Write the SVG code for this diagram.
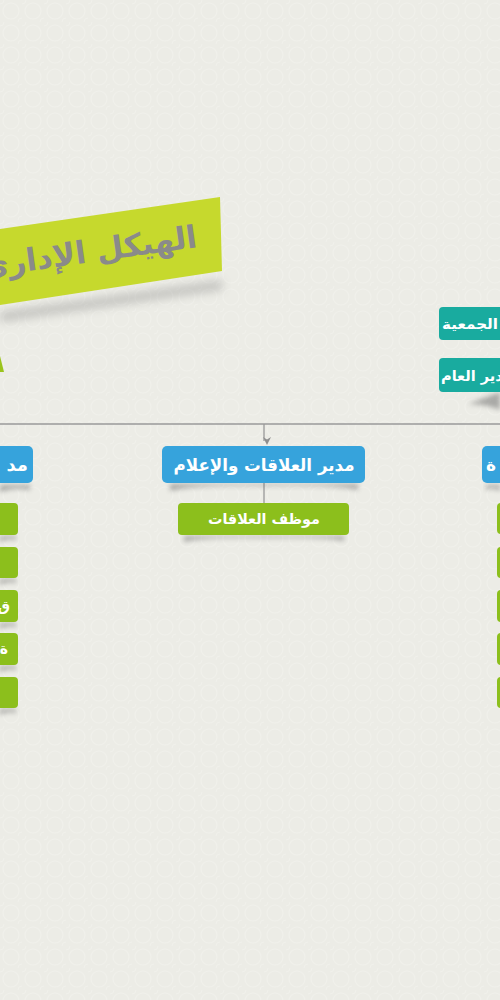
<svg xmlns="http://www.w3.org/2000/svg" width="500" height="1000" viewBox="0 0 500 1000">
<defs>
<pattern id="tile" width="22" height="22" patternUnits="userSpaceOnUse">
<circle cx="11" cy="11" r="8" fill="none" stroke="#f6f6f2" stroke-width="1.2"/>
<circle cx="0" cy="0" r="4" fill="none" stroke="#f6f6f2" stroke-width="1"/>
<circle cx="22" cy="22" r="4" fill="none" stroke="#f6f6f2" stroke-width="1"/>
</pattern>
<filter id="blur" x="-20%" y="-100%" width="140%" height="300%"><feGaussianBlur stdDeviation="2.5"/></filter>
<filter id="blurBig" x="-20%" y="-100%" width="140%" height="300%"><feGaussianBlur stdDeviation="5"/></filter>
<marker id="arr" markerWidth="8" markerHeight="8" refX="4" refY="7" orient="auto" markerUnits="userSpaceOnUse">
<path d="M0,0 L4,2.5 L8,0 L4,8 Z" fill="#8e8e8e" transform="rotate(-90 4 4)"/>
</marker>
<style>
.ar{font-family:"DejaVu Sans",sans-serif;font-weight:bold;fill:#ffffff}
.blue{fill:#36a3dc}
.green{fill:#8cbf1c}
.teal{fill:#19ab9f}
.shadow{fill:#555;opacity:0.45;filter:url(#blur)}
.conn{stroke:#9a9a9a;stroke-width:1.3;fill:none}
</style>
</defs>
<rect width="500" height="1000" fill="#ecece6"/>
<rect width="500" height="1000" fill="url(#tile)" opacity="0.4"/>

<g id="title">
<polygon points="0,312 222,280 222,290 0,322" fill="#777" opacity="0.35" filter="url(#blurBig)"/>
<polygon points="0,229 220,197 222,271 0,305" fill="#c6d92d"/>
<text class="ar" x="198" y="247" direction="rtl" text-anchor="start" font-size="31" style="fill:#8a8a8a" transform="rotate(-8 198 247)">الهيكل الإداري</text>
<polygon points="0,356 4,372 0,372" fill="#9bc41d"/>
</g>

<g id="connectors">
<line class="conn" x1="0" y1="424" x2="500" y2="424"/>
<line class="conn" x1="264" y1="424" x2="264" y2="441" marker-end="url(#arr)"/>
<line class="conn" x1="264" y1="483" x2="264" y2="503"/>
</g>

<g id="assembly">
<rect class="teal" x="439" y="307" width="70" height="33" rx="4"/>
<text class="ar" x="442" y="329" direction="rtl" text-anchor="end" font-size="14" textLength="56" lengthAdjust="spacingAndGlyphs">الجمعية</text>
</g>

<g id="general-manager">
<path d="M468,404 Q490,396 500,392 L500,410 Q488,404 468,404 Z" fill="#666" opacity="0.5" filter="url(#blur)"/>
<rect class="teal" x="439" y="358" width="70" height="34" rx="4"/>
<text class="ar" x="441" y="381" direction="rtl" text-anchor="end" font-size="14.5">المدير العام</text>
</g>

<g id="left-manager">
<path class="shadow" d="M0,485 L30,485 L30,490 Q15,486 0,492 Z"/>
<rect class="blue" x="-40" y="446" width="73" height="37" rx="5"/>
<text class="ar" x="28" y="471" direction="rtl" text-anchor="start" font-size="18">مد</text>
</g>

<g id="pr-manager">
<path class="shadow" d="M170,484 L358,484 L358,490 Q340,485 264,486 Q190,485 170,491 Z"/>
<rect class="blue" x="162" y="446" width="203" height="37" rx="5"/>
<text class="ar" x="264" y="471" text-anchor="middle" font-size="17" textLength="181" lengthAdjust="spacingAndGlyphs">مدير العلاقات والإعلام</text>
</g>

<g id="right-manager">
<path class="shadow" d="M486,485 L500,485 L500,491 Q492,486 486,490 Z"/>
<rect class="blue" x="482" y="446" width="40" height="37" rx="5"/>
<text class="ar" x="486" y="471" direction="rtl" text-anchor="end" font-size="17">ة</text>
</g>

<g id="pr-staff">
<path class="shadow" d="M184,536 L344,536 L344,541 Q330,537 264,538 Q200,537 184,542 Z"/>
<rect class="green" x="178" y="503" width="171" height="32" rx="4"/>
<text class="ar" x="264" y="524" text-anchor="middle" font-size="14.5" textLength="112" lengthAdjust="spacingAndGlyphs">موظف العلاقات</text>
</g>

<g id="left-staff-1"><path class="shadow" d="M0,536 L16,536 L16,540 Q8,537 0,542 Z"/><rect class="green" x="-30" y="503" width="48" height="32" rx="4"/></g>
<g id="left-staff-2"><path class="shadow" d="M0,579 L16,579 L16,583 Q8,580 0,585 Z"/><rect class="green" x="-30" y="547" width="48" height="31" rx="4"/></g>
<g id="left-staff-3"><path class="shadow" d="M0,623 L16,623 L16,627 Q8,624 0,629 Z"/><rect class="green" x="-30" y="590" width="48" height="32" rx="4"/>
<text class="ar" x="10" y="611" direction="rtl" text-anchor="start" font-size="14">ق</text></g>
<g id="left-staff-4"><path class="shadow" d="M0,666 L16,666 L16,670 Q8,667 0,672 Z"/><rect class="green" x="-30" y="633" width="48" height="32" rx="4"/>
<text class="ar" x="8" y="654" direction="rtl" text-anchor="start" font-size="14">ة</text></g>
<g id="left-staff-5"><path class="shadow" d="M0,709 L16,709 L16,713 Q8,710 0,715 Z"/><rect class="green" x="-30" y="677" width="48" height="31" rx="4"/></g>

<g id="right-staff-1"><rect class="green" x="497" y="503" width="40" height="31" rx="4"/></g>
<g id="right-staff-2"><rect class="green" x="497" y="547" width="40" height="31" rx="4"/></g>
<g id="right-staff-3"><rect class="green" x="497" y="590" width="40" height="32" rx="4"/></g>
<g id="right-staff-4"><rect class="green" x="497" y="633" width="40" height="32" rx="4"/></g>
<g id="right-staff-5"><rect class="green" x="497" y="677" width="40" height="31" rx="4"/></g>
</svg>
